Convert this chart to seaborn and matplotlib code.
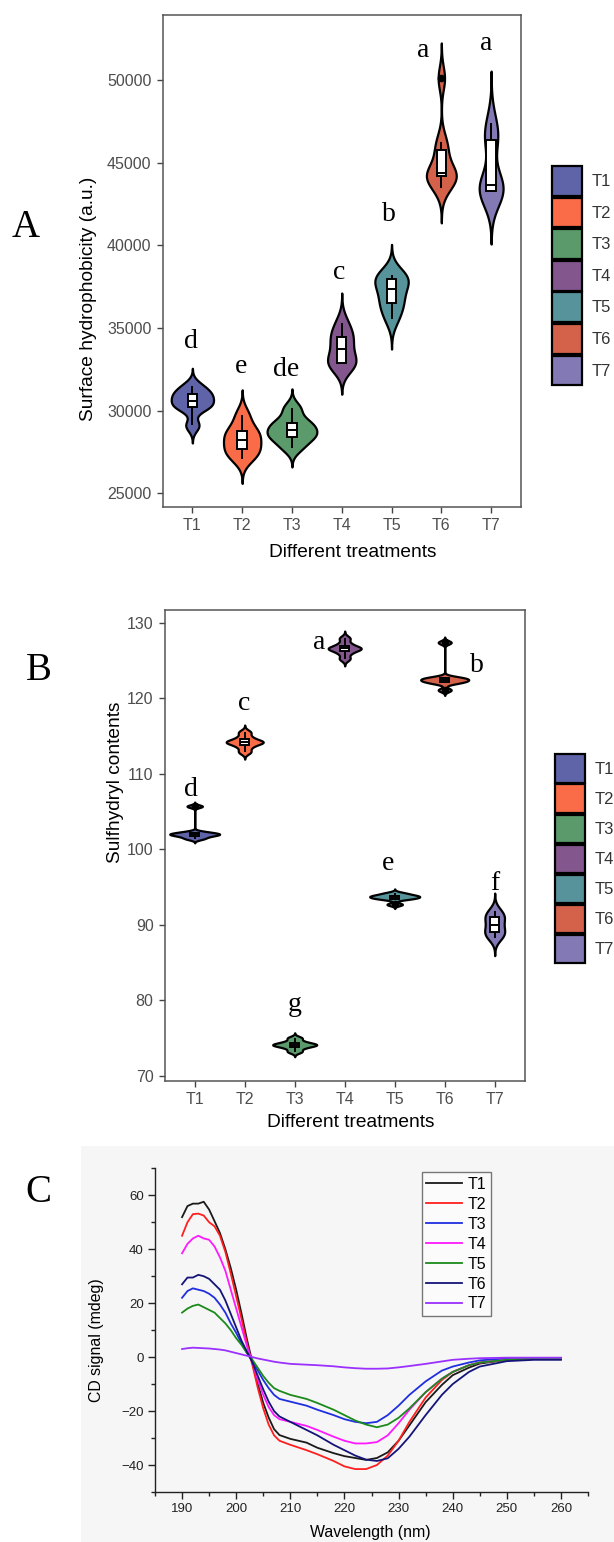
import numpy as np
import pandas as pd
import matplotlib
matplotlib.use("Agg")
import matplotlib.pyplot as plt
from matplotlib.patches import Patch, Rectangle
from matplotlib.lines import Line2D
from matplotlib.ticker import MultipleLocator
import seaborn as sns

treatments = ["T1", "T2", "T3", "T4", "T5", "T6", "T7"]
fill_colors = ["#5f63a7", "#f96c47", "#5b9a6b", "#83578e", "#56939b", "#d4624a", "#8379b5"]

# A: surface hydrophobicity (a.u.), replicate readings
hydro_t1 = [29100, 30150, 30300, 30600, 30900, 31100, 31500]
hydro_t2 = [27100, 27500, 27800, 28250, 28600, 28900, 29750]
hydro_t3 = [27750, 28300, 28500, 28800, 29100, 29400, 30150]
hydro_t4 = [32800, 32850, 32900, 33700, 34300, 34600, 35300]
hydro_t5 = [35550, 36300, 36700, 37350, 37800, 38100, 38220]
hydro_t6 = [43480, 44050, 44200, 44300, 44450, 45600, 46260, 50100]
hydro_t7 = [43200, 43250, 43300, 43600, 43700, 46300, 46500, 47400]
hydro_letters = ["d", "e", "de", "c", "b", "a", "a"]

# B: sulfhydryl contents
sh_t1 = [101.4, 101.7, 101.9, 102.0, 102.1, 102.3, 105.7]
sh_t2 = [112.9, 113.6, 114.1, 114.2, 114.3, 114.8, 115.5]
sh_t3 = [73.2, 73.7, 74.0, 74.1, 74.2, 74.5, 75.0]
sh_t4 = [125.25, 126.0, 126.5, 126.6, 126.7, 127.2, 127.95]
sh_t5 = [92.7, 93.4, 93.55, 93.7, 93.8, 93.95, 94.2]
sh_t6 = [121.1, 122.0, 122.2, 122.35, 122.5, 122.65, 122.8, 127.4]
sh_t7 = [88.3, 88.8, 89.2, 90.0, 90.8, 91.2, 91.8]
sh_letters = ["d", "c", "g", "a", "e", "b", "f"]

# C: CD spectra (mdeg)
wavelength = [190, 191, 192, 193, 194, 195, 196, 197, 198, 199, 200, 201, 202, 203, 204, 205, 206, 207, 208,
              210, 213, 215, 218, 220, 222, 224, 226, 228, 230, 232, 235, 238, 240, 243, 245, 250, 255, 260]
cd_t1 = [51.9, 56, 56.9, 56.9, 57.6, 54.7, 50.4, 46, 40, 33, 25, 16, 6.5, -2, -10, -17, -22.4, -26.7, -28.9,
         -30.3, -31.7, -33.6, -35.6, -36.7, -37.4, -38.1, -37.4, -35.3, -31, -25.3, -16.7, -10.3, -6.7, -3.9, -2.4, -1, -0.7, -0.7]
cd_t2 = [45, 50, 53, 53.2, 52.5, 50, 48.5, 45, 39, 31, 22.5, 14, 5, -3, -11.5, -19, -25, -29, -31,
         -32.5, -34.5, -36, -38.5, -40.5, -41.5, -41.5, -40, -36.5, -31, -24, -15, -8.5, -5.5, -3, -2, -1, -0.5, -0.5]
cd_t3 = [22, 24.5, 25.5, 25, 24.5, 23.5, 22, 19.5, 16.5, 12.5, 9, 5, 1.5, -1.5, -5, -8.5, -11.5, -14, -15.5,
         -16.5, -18, -19.5, -21.5, -23, -24, -24.5, -24, -21.5, -18, -14, -9, -5, -3.5, -2, -1.2, -0.5, -0.3, -0.3]
cd_t4 = [38.5, 42, 44, 45, 44, 43.5, 41, 37, 32, 25, 18, 11, 4, -2, -8.5, -14, -18.5, -21.5, -23,
         -24, -25.5, -27, -29.5, -31, -32, -32, -31.5, -29, -24.5, -19.5, -13, -8, -5.5, -3, -2, -1, -0.5, -0.3]
cd_t5 = [16.5, 18, 19, 19.5, 18.5, 17.5, 16.5, 14.5, 12.5, 10, 7, 4.5, 1.5, -1, -4, -7, -9.5, -11.5, -12.5,
         -14, -15.5, -17, -19.5, -21.5, -23.5, -25, -26, -25, -22.5, -19, -13, -8, -5.5, -3, -2, -1, -0.5, -0.5]
cd_t6 = [27, 29.5, 29.5, 30.5, 30, 29, 27, 25, 21, 16, 11, 6, 2, -2, -7, -12, -16.5, -20, -22,
         -24, -27, -29, -32.5, -34.5, -36.5, -38, -38.5, -37.5, -34, -29.5, -21.5, -14, -10, -5.5, -3.5, -1.5, -1, -1]
cd_t7 = [3, 3.3, 3.5, 3.4, 3.3, 3.2, 3, 2.8, 2.5, 2, 1.5, 1, 0.5, 0, -0.5, -0.9, -1.3, -1.7, -2,
         -2.5, -2.8, -3, -3.4, -3.8, -4.1, -4.3, -4.3, -4.2, -3.8, -3.3, -2.5, -1.6, -1, -0.6, -0.4, -0.2, -0.2, -0.2]
line_colors = ["#1a1a1a", "#ff1f1f", "#1f2fe0", "#ff19ff", "#1b8a1b", "#141478", "#9b30ff"]

plt.rcParams["font.family"] = ["Liberation Sans", "DejaVu Sans"]
SERIF = ["Liberation Serif", "DejaVu Serif"]
W, H = 614, 1542


def long_df(groups):
    return pd.DataFrame({"treatment": np.repeat(treatments, [len(g) for g in groups]),
                         "value": np.concatenate(groups)})


def nrd0(kde):
    # R's default bandwidth, as used by ggplot violins
    x = kde.dataset.ravel()
    sd = np.std(x, ddof=1)
    q75, q25 = np.percentile(x, [75, 25])
    lo = min(sd, (q75 - q25) / 1.34)
    return 0.9 * lo * len(x) ** -0.2 / sd


def box(l, t, r, b):
    return [l / W, 1 - b / H, (r - l) / W, (b - t) / H]


def ftext(x, y, s, **kw):
    fig.text(x / W, 1 - y / H, s, **kw)


def violin_panel(ax, df, widths, ylim, yticks, letters, letter_x, letter_y):
    # one call per treatment so each violin keeps the width seen in the figure
    for i, t in enumerate(treatments):
        sns.violinplot(data=df[df["treatment"] == t], x="treatment", y="value", order=treatments,
                       color=fill_colors[i], saturation=1, width=widths[i], cut=3,
                       bw_method=nrd0, inner=None, linecolor="black", linewidth=1.6, ax=ax)
    sns.boxplot(data=df, x="treatment", y="value", order=treatments, color="white",
                saturation=1, width=0.19, linecolor="black", linewidth=1.4, showcaps=False,
                flierprops=dict(marker="o", markersize=4.5, markerfacecolor="black",
                                markeredgecolor="black"), ax=ax)
    for i, s in enumerate(letters):
        ax.text(letter_x[i], letter_y[i], s, ha="center", va="baseline",
                family=SERIF, fontsize=20)
    ax.set_xlim(-0.6, 6.6)
    ax.set_ylim(*ylim)
    ax.set_yticks(yticks)
    ax.set_xlabel("")
    ax.set_ylabel("")
    for sp in ax.spines.values():
        sp.set_color("#555555")
        sp.set_linewidth(1.1)
    ax.tick_params(length=4, width=1, color="#444444", labelcolor="#4d4d4d",
                   labelsize=11.5, pad=4)


def key_legend(ax, x, y, pitch):
    handles = [Patch(facecolor=c, edgecolor="black", linewidth=1.6) for c in fill_colors]
    fs = 12 * 100 / 72
    key_h = pitch - 1.8
    hh = (key_h / fs - 0.245) / 0.65
    ax.legend(handles, treatments, loc="upper left", bbox_to_anchor=(x / W, 1 - y / H),
              bbox_transform=fig.transFigure, frameon=False, fontsize=12, borderpad=0,
              borderaxespad=0, handlelength=30 / fs, handleheight=hh,
              labelspacing=1.8 / fs, handletextpad=0.6, labelcolor="#333333")


fig = plt.figure(figsize=(W / 100, H / 100), dpi=100)

# ---- panel A
axA = fig.add_axes(box(162.5, 15, 521, 507))
dfA = long_df([hydro_t1, hydro_t2, hydro_t3, hydro_t4, hydro_t5, hydro_t6, hydro_t7])
violin_panel(axA, dfA, [0.85, 0.75, 1.0, 0.57, 0.67, 0.6, 0.48],
             (24170, 53920), range(25000, 50001, 5000), hydro_letters,
             [-0.03, 0.97, 1.89, 2.95, 3.94, 4.64, 5.9],
             [33808, 32299, 32095, 37930, 41449, 51406, 51810])
key_legend(axA, 552, 166, 31.6)
ftext(25.5, 237.3, "A", family=SERIF, fontsize=28, ha="center", va="baseline")
ftext(88.3, 299, "Surface hydrophobicity (a.u.)", rotation=90, fontsize=13.8,
      ha="center", va="center")
ftext(352.4, 552.3, "Different treatments", fontsize=13.8, ha="center", va="center")

# ---- panel B
axB = fig.add_axes(box(164.7, 610, 524.7, 1081))
dfB = long_df([sh_t1, sh_t2, sh_t3, sh_t4, sh_t5, sh_t6, sh_t7])
violin_panel(axB, dfB, [1.0, 0.74, 0.88, 0.66, 1.0, 0.96, 0.4],
             (69.3, 131.7), range(70, 131, 10), sh_letters,
             [-0.08, 0.98, 2.0, 2.48, 3.87, 5.65, 6.0],
             [107.0, 118.5, 78.6, 126.5, 97.2, 123.5, 94.6])
key_legend(axB, 555, 754.3, 30.1)
ftext(38.9, 680, "B", family=SERIF, fontsize=28, ha="center", va="baseline")
ftext(115, 782.5, "Sulfhydryl contents", rotation=90, fontsize=13.8, ha="center", va="center")
ftext(350.5, 1122.7, "Different treatments", fontsize=13.8, ha="center", va="center")

# ---- panel C
fig.add_artist(Rectangle((80.6 / W, 0), 1 - 80.6 / W, (H - 1145.5) / H,
                         transform=fig.transFigure, facecolor="#f6f6f6", edgecolor="none", zorder=-1))
axC = fig.add_axes(box(155, 1168.3, 588, 1492))
axC.set_facecolor("none")
cd = pd.DataFrame({"wavelength": np.tile(wavelength, 7),
                   "signal": np.concatenate([cd_t1, cd_t2, cd_t3, cd_t4, cd_t5, cd_t6, cd_t7]),
                   "treatment": np.repeat(treatments, len(wavelength))})
sns.lineplot(data=cd, x="wavelength", y="signal", hue="treatment", hue_order=treatments,
             palette=line_colors, linewidth=1.3, legend=False, ax=axC)
axC.set_xlim(185, 265)
axC.set_ylim(-50, 70)
axC.xaxis.set_major_locator(MultipleLocator(10))
axC.xaxis.set_minor_locator(MultipleLocator(5))
axC.yaxis.set_major_locator(MultipleLocator(20))
axC.yaxis.set_minor_locator(MultipleLocator(10))
axC.spines["top"].set_visible(False)
axC.spines["right"].set_visible(False)
for sp in ["left", "bottom"]:
    axC.spines[sp].set_color("#222222")
    axC.spines[sp].set_linewidth(1)
axC.tick_params(which="major", length=5, width=1, color="#222222", labelcolor="#222222",
                labelsize=9.5, pad=3)
axC.tick_params(which="minor", length=3, width=1, color="#222222")
axC.set_xlabel("")
axC.set_ylabel("")
handles = [Line2D([], [], color=c, linewidth=1.3) for c in line_colors]
leg = axC.legend(handles, treatments, loc="upper left", bbox_to_anchor=(421.7 / W, 1 - 1172 / H),
                 bbox_transform=fig.transFigure, fontsize=11.5, frameon=True, fancybox=False,
                 framealpha=1, borderpad=0.3, borderaxespad=0, labelspacing=0.31,
                 handlelength=2.25, handletextpad=0.3)
leg.get_frame().set_edgecolor("#777777")
leg.get_frame().set_facecolor("#fbfbfb")
leg.get_frame().set_linewidth(1)
ftext(38.4, 1201.5, "C", family=SERIF, fontsize=28, ha="center", va="baseline")
ftext(97, 1340, "CD signal (mdeg)", rotation=90, fontsize=11.4, ha="center", va="center")
ftext(370, 1533, "Wavelength (nm)", fontsize=11.4, ha="center", va="center")

fig.savefig("out.png", dpi=100)
